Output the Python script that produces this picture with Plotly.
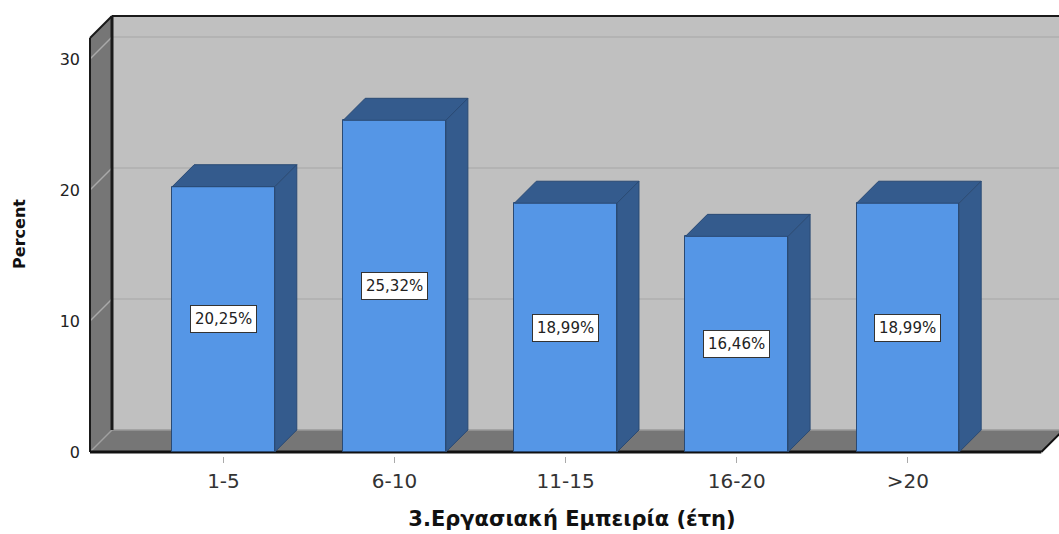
import plotly.graph_objects as go

# ---- data -------------------------------------------------------------
categories = ["1-5", "6-10", "11-15", "16-20", ">20"]
percent = [20.25, 25.32, 18.99, 16.46, 18.99]
y_ticks = [0, 10, 20, 30]

# ---- geometry of the pseudo-3D box ------------------------------------
W, H = 1059, 534
PX_PER_CAT = 171.1      # horizontal pixels per category step
PX_PER_UNIT = 13.1      # vertical pixels per percent
DEPTH_PX = 22           # depth offset of the box (to the upper right)
dx = DEPTH_PX / PX_PER_CAT
dy = DEPTH_PX / PX_PER_UNIT
bar_w = 0.6
x_lo = -0.78
x_hi = len(categories) - 1 + 0.78
wall_top = 31.6

m_l, m_t, m_b = 85, 12, 78
front_left_px, front_zero_px = 90, 452
x_range = [x_lo - (front_left_px - m_l) / PX_PER_CAT,
           x_lo + (W - front_left_px) / PX_PER_CAT]
y_range = [-((H - m_b) - front_zero_px) / PX_PER_UNIT,
           (front_zero_px - m_t) / PX_PER_UNIT]

WALL = "#c0c0c0"
SIDE_WALL = "#767676"
FRONT = "#5596e6"
DARK = "#345b8d"
EDGE = "#2a4a74"
FONT = "DejaVu Sans, Verdana, sans-serif"

shapes = []


def line(x0, y0, x1, y1, color, width):
    shapes.append(dict(type="line", xref="x", yref="y", x0=x0, y0=y0,
                       x1=x1, y1=y1, layer="below",
                       line=dict(color=color, width=width)))


def poly(pts, fill):
    path = "M " + " L ".join(f"{px},{py}" for px, py in pts) + " Z"
    shapes.append(dict(type="path", xref="x", yref="y", path=path,
                       fillcolor=fill, layer="below",
                       line=dict(width=0)))


# back wall, left wall, floor
poly([(x_lo + dx, dy), (x_range[1] + 1, dy), (x_range[1] + 1, wall_top + dy),
      (x_lo + dx, wall_top + dy)], WALL)
poly([(x_lo, 0), (x_lo + dx, dy), (x_lo + dx, wall_top + dy), (x_lo, wall_top)],
     SIDE_WALL)
poly([(x_lo, 0), (x_hi, 0), (x_hi + dx, dy), (x_lo + dx, dy)], SIDE_WALL)

# grid lines on back wall and left wall
for t in y_ticks[1:]:
    line(x_lo + dx, t + dy, x_range[1] + 1, t + dy, "#b3b3b3", 2)
    line(x_lo, t, x_lo + dx, t + dy, "#a9a9a9", 1.5)

# light inner edges
line(x_lo, 0, x_lo + dx, dy, "#a0a0a0", 1.5)
line(x_lo + dx, dy, x_range[1] + 1, dy, "#9a9a9a", 1.5)

# dark outline of the box
line(x_lo, 0, x_lo, wall_top, "#1a1a1a", 2)
line(x_lo + dx, dy, x_lo + dx, wall_top + dy, "#1a1a1a", 3)
line(x_lo, wall_top, x_lo + dx, wall_top + dy, "#1a1a1a", 2)
line(x_lo + dx, wall_top + dy, x_range[1] + 1, wall_top + dy, "#1a1a1a", 2)
line(x_lo, 0, x_hi, 0, "#111111", 3)
line(x_hi, 0, x_hi + dx, dy, "#111111", 2)

# ---- bars -------------------------------------------------------------
idx = list(range(len(categories)))

fig = go.Figure()
fig.add_trace(go.Bar(
    x=idx, y=percent, width=bar_w,
    marker=dict(color=FRONT, line=dict(color=EDGE, width=1)),
    hoverinfo="skip", showlegend=False,
))

top_x, top_y, side_x, side_y = [], [], [], []
for i, v in zip(idx, percent):
    l, r = i - bar_w / 2, i + bar_w / 2
    top_x += [l, r, r + dx, l + dx, l, None]
    top_y += [v, v, v + dy, v + dy, v, None]
    side_x += [r, r + dx, r + dx, r, r, None]
    side_y += [0, dy, v + dy, v, 0, None]

for xs, ys in ((top_x, top_y), (side_x, side_y)):
    fig.add_trace(go.Scatter(
        x=xs, y=ys, mode="lines", fill="toself", fillcolor=DARK,
        line=dict(color=EDGE, width=1), hoverinfo="skip", showlegend=False,
    ))

annotations = []
for i, v in zip(idx, percent):
    annotations.append(dict(
        x=i, y=v / 2, xref="x", yref="y", showarrow=False,
        text=f"{v:.2f}".replace(".", ",") + "%",
        font=dict(family=FONT, size=15, color="#222222"),
        bgcolor="white", bordercolor="#333333", borderwidth=1, borderpad=4,
    ))

fig.update_layout(
    width=W, height=H,
    margin=dict(l=m_l, r=0, t=m_t, b=m_b),
    paper_bgcolor="white", plot_bgcolor="white",
    shapes=shapes, annotations=annotations,
    font=dict(family=FONT, color="#333333"),
    xaxis=dict(
        range=x_range, tickvals=idx, ticktext=categories,
        showgrid=False, zeroline=False, showline=False,
        ticks="outside", ticklen=6, tickcolor="#aaaaaa", tickwidth=1,
        ticklabelstandoff=1,
        tickfont=dict(family=FONT, size=20, color="#333333"),
        title=dict(text="<b>3.Εργασιακή Εμπειρία (έτη)</b>", standoff=19,
                   font=dict(family=FONT, size=21, color="#111111")),
    ),
    yaxis=dict(
        range=y_range, tickvals=y_ticks, ticktext=[str(t) for t in y_ticks],
        showgrid=False, zeroline=False, showline=False,
        ticks="", ticklabelstandoff=4,
        tickfont=dict(family=FONT, size=16, color="#222222"),
        title=dict(text="<b>Percent</b>", standoff=30,
                   font=dict(family=FONT, size=16, color="#111111")),
    ),
    bargap=0,
)

fig.write_html("out.html")
